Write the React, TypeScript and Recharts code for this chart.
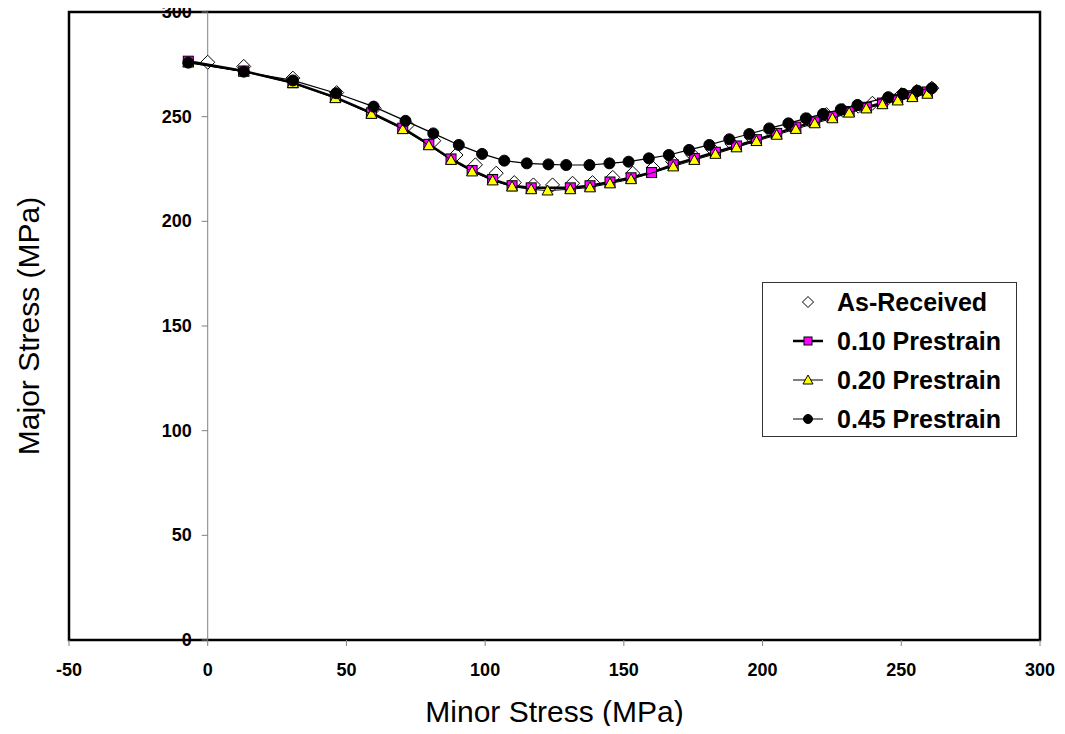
import React from 'react';
import { ScatterChart, Scatter, XAxis, YAxis, ReferenceLine, ReferenceArea, Legend, Label } from 'recharts';

const FONT = '"Liberation Sans", Arial, sans-serif';

// As-Received (diamonds)
const asReceivedMinor = [0, 13, 30.7, 46.5, 60, 72, 81.5, 89.5, 96.5, 104, 110.5, 117.4, 124.3, 131.5, 138.7, 146, 153.2, 160.5, 167.6, 174.8, 182, 189, 196, 203, 210, 216.5, 223, 229, 234.5, 239.6, 245, 250, 255.5, 261];
const asReceivedMajor = [276, 274, 268.4, 261.5, 254, 246, 238.5, 231.7, 227, 223, 218.5, 217.4, 217.4, 218.2, 218.5, 221, 223, 225.5, 228.5, 231.7, 234.3, 237, 240, 243, 246, 248.5, 251, 253, 255, 256.4, 258.5, 260.5, 262, 263.6];

// 0.10 Prestrain (squares)
const pre10Minor = [-7, 13, 30.7, 46, 59, 70.3, 79.7, 87.7, 95.3, 102.7, 109.7, 116.6, 130.7, 137.8, 145, 152.6, 160, 167.8, 175.4, 183, 190.6, 197.8, 205.1, 212, 218.8, 225.2, 231.2, 237.4, 243.2, 248.7, 254, 259.4];
const pre10Major = [276.5, 271.8, 266.2, 259.2, 251.8, 244.5, 236.8, 229.8, 224.3, 220, 217, 216, 216, 217, 218.8, 220.8, 223.3, 227, 230, 233, 236, 239, 242, 245, 247.5, 250, 252.5, 254.5, 256.5, 258.3, 260, 261.8];

// 0.20 Prestrain (triangles)
const pre20Minor = [-7, 13, 30.7, 46, 59, 70.3, 79.7, 87.7, 95.3, 102.7, 109.7, 116.6, 122.5, 130.7, 137.8, 145, 152.6, 167.8, 175.4, 183, 190.6, 197.8, 205.1, 212, 218.8, 225.2, 231.2, 237.4, 243.2, 248.7, 254, 259.4];
const pre20Major = [275.8, 271.5, 266, 258.8, 251.3, 244, 236.3, 229.3, 223.8, 219.5, 216.6, 215.3, 214.7, 215.3, 216.2, 218.1, 220.1, 226.2, 229.3, 232.2, 235.3, 238.3, 241.3, 244.1, 246.8, 249.2, 251.9, 253.9, 255.9, 257.7, 259.3, 260.9];

// 0.45 Prestrain (circles)
const pre45Minor = [-7, 13, 30.7, 46.3, 59.8, 71.3, 81.3, 90.5, 98.9, 106.9, 115, 122.8, 129.2, 137.6, 144.8, 151.7, 159, 166.2, 173.5, 180.8, 188, 195.2, 202.4, 209.3, 215.6, 221.8, 228.2, 234.2, 245.3, 250.6, 255.8, 261];
const pre45Major = [275.8, 271.5, 267.3, 261.2, 254.8, 248, 242, 236.5, 232.2, 229, 227.7, 227.2, 226.9, 226.9, 227.7, 228.5, 230.1, 231.7, 234.1, 236.5, 239.2, 241.7, 244.4, 246.8, 249.2, 251.3, 253.5, 255.6, 259.3, 260.9, 262.4, 263.6];

const xTicks = [-50, 0, 50, 100, 150, 200, 250, 300];
const yTicks = [0, 50, 100, 150, 200, 250, 300];

const seriesNames = ['As-Received', '0.10 Prestrain', '0.20 Prestrain', '0.45 Prestrain'];

const zip = (xs: number[], ys: number[]) => xs.map((x, i) => ({ x, y: ys[i] }));
const asReceived = zip(asReceivedMinor, asReceivedMajor);
const pre10 = zip(pre10Minor, pre10Major);
const pre20 = zip(pre20Minor, pre20Major);
const pre45 = zip(pre45Minor, pre45Major);
const yTickPoints = yTicks.map((y) => ({ x: 0, y }));

const Diamond = ({ cx, cy, s = 7 }: any) => (
  <polygon points={`${cx},${cy - s} ${cx + s},${cy} ${cx},${cy + s} ${cx - s},${cy}`} fill="#fff" stroke="#000" strokeWidth={1} />
);
const Square = ({ cx, cy, s = 5 }: any) => (
  <rect x={cx - s} y={cy - s} width={2 * s} height={2 * s} fill="#ff00ff" stroke="#000" strokeWidth={1} />
);
const Triangle = ({ cx, cy, s = 5.5 }: any) => (
  <polygon points={`${cx},${cy - s} ${cx + s},${cy + s * 0.8} ${cx - s},${cy + s * 0.8}`} fill="#ffff00" stroke="#000" strokeWidth={1} />
);
const Circle = ({ cx, cy, r = 5.5 }: any) => <circle cx={cx} cy={cy} r={r} fill="#000" stroke="#000" />;

const YTick = ({ cx, cy, payload }: any) => (
  <g>
    <line x1={cx - 6} y1={cy} x2={cx} y2={cy} stroke="#808080" strokeWidth={1} />
    <text x={cx - 16} y={cy} textAnchor="end" dominantBaseline="central" fontFamily={FONT} fontWeight="bold" fontSize={18} fill="#000">
      {payload.y}
    </text>
  </g>
);

const LegendBox = () => {
  const rows = [
    { name: seriesNames[0], sym: (cx: number, cy: number) => <Diamond cx={cx} cy={cy} s={5.5} />, line: 0 },
    { name: seriesNames[1], sym: (cx: number, cy: number) => <Square cx={cx} cy={cy} s={4} />, line: 2.5 },
    { name: seriesNames[2], sym: (cx: number, cy: number) => <Triangle cx={cx} cy={cy} s={5} />, line: 1 },
    { name: seriesNames[3], sym: (cx: number, cy: number) => <Circle cx={cx} cy={cy} r={4.5} />, line: 1 },
  ];
  return (
    <div style={{ width: 253, height: 153, border: '1px solid #333', background: '#fff' }}>
      <svg width={253} height={153}>
        {rows.map((r, i) => {
          const cy = 19 + i * 39;
          return (
            <g key={r.name}>
              {r.line > 0 && <line x1={30} y1={cy} x2={60} y2={cy} stroke="#000" strokeWidth={r.line} />}
              {r.sym(45, cy)}
              <text x={74} y={cy} dominantBaseline="central" fontFamily={FONT} fontWeight="bold" fontSize={25} fill="#000">
                {r.name}
              </text>
            </g>
          );
        })}
      </svg>
    </div>
  );
};

const XTitle = ({ viewBox }: any) => (
  <text x={viewBox.x + viewBox.width / 2} y={viewBox.y + 82} textAnchor="middle" fontFamily={FONT} fontSize={30} fill="#000">
    Minor Stress (MPa)
  </text>
);
const YTitle = ({ viewBox }: any) => {
  const cx = viewBox.x + 28;
  const cy = viewBox.y + viewBox.height / 2;
  return (
    <text x={cx} y={cy} transform={`rotate(-90 ${cx} ${cy})`} textAnchor="middle" dominantBaseline="central" fontFamily={FONT} fontSize={30} fill="#000">
      Major Stress (MPa)
    </text>
  );
};

export default function App() {
  return (
    <div style={{ margin: -8 }}>
      <ScatterChart width={1065} height={734} margin={{ top: 12, right: 25, bottom: 0, left: 0 }}>
        <XAxis
          type="number"
          dataKey="x"
          domain={[-50, 300]}
          ticks={xTicks}
          axisLine={false}
          tickLine={{ stroke: '#808080' }}
          tickSize={6}
          tickMargin={17}
          height={94}
          tick={{ fontSize: 18, fontWeight: 'bold', fill: '#000', fontFamily: FONT }}
        >
          <Label content={<XTitle />} />
        </XAxis>
        <YAxis
          type="number"
          dataKey="y"
          domain={[0, 300]}
          ticks={yTicks}
          axisLine={false}
          tickLine={false}
          tick={false}
          width={69}
        >
          <Label content={<YTitle />} />
        </YAxis>
        <ReferenceLine x={0} stroke="#808080" strokeWidth={1} ifOverflow="visible" />
        <ReferenceArea x1={-50} x2={300} y1={0} y2={300} fill="none" stroke="#000" strokeWidth={2.5} ifOverflow="visible" />
        <Scatter name="yticks" data={yTickPoints} shape={<YTick />} isAnimationActive={false} legendType="none" />
        <Scatter name={seriesNames[0]} data={asReceived} shape={<Diamond />} isAnimationActive={false} />
        <Scatter name={seriesNames[1]} data={pre10} shape={<Square />} line={{ stroke: '#000', strokeWidth: 2.5 }} isAnimationActive={false} />
        <Scatter name={seriesNames[2]} data={pre20} shape={<Triangle />} line={{ stroke: '#000', strokeWidth: 1 }} isAnimationActive={false} />
        <Scatter name={seriesNames[3]} data={pre45} shape={<Circle />} line={{ stroke: '#000', strokeWidth: 1.2 }} isAnimationActive={false} />
        <Legend
          layout="horizontal"
          verticalAlign="middle"
          align="center"
          content={<LegendBox />}
          wrapperStyle={{ position: 'absolute', left: 762, top: 282, width: 255, height: 155, bottom: 'auto', right: 'auto' }}
        />
      </ScatterChart>
    </div>
  );
}
